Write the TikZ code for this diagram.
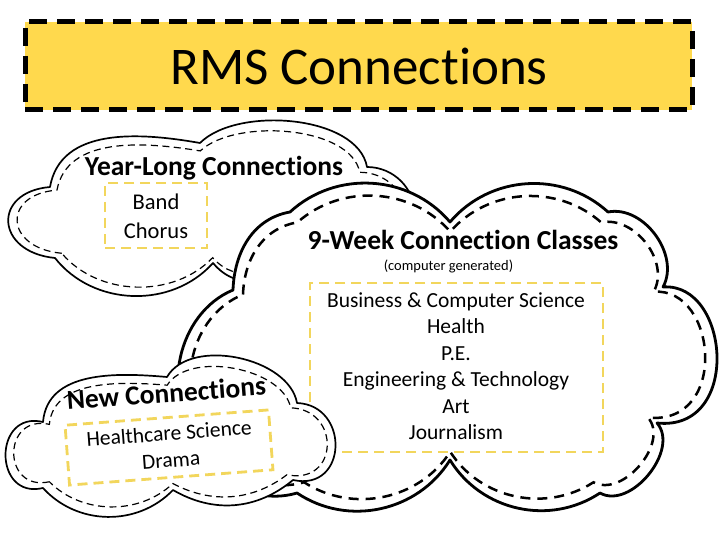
\documentclass[tikz,border=0pt]{standalone}
\usepackage{fontspec}
\setmainfont{Carlito}[Ligatures={NoCommon}]
\definecolor{titleyellow}{RGB}{255,217,77}
\definecolor{boxyellow}{RGB}{242,214,92}
\begin{document}
\begin{tikzpicture}[x=1pt,y=-1pt,
  smallouter/.style={draw=black, fill=white, line width=1.7pt, line join=round},
  smallinner/.style={draw=black, line width=1.2pt, dash pattern=on 7pt off 4.5pt},
  bigouter/.style={draw=black, fill=white, line width=2.8pt, line join=round},
  biginner/.style={draw=black, line width=2.5pt, dash pattern=on 10pt off 7pt},
  titlebox/.style={draw=black, fill=titleyellow, line width=5pt, dash pattern=on 18pt off 10pt, inner sep=0pt},
  ybox/.style={draw=boxyellow, line width=2.8pt, dash pattern=on 10pt off 6pt, inner sep=0pt},
  titletext/.style={font=\fontsize{53}{60}\selectfont, inner sep=0pt},
  head/.style={font=\bfseries\fontsize{27.5}{32}\selectfont, inner sep=0pt},
  body/.style={font=\fontsize{21.5}{25}\selectfont, inner sep=0pt},
  bodyb/.style={font=\fontsize{22.5}{26}\selectfont, inner sep=0pt},
  bodylist/.style={font=\fontsize{21.5}{27}\selectfont, inner sep=0pt, align=center},
  tiny/.style={font=\fontsize{14.5}{17}\selectfont, inner sep=0pt}
]
\useasboundingbox (0,0) rectangle (720,540);
\fill[white] (0,0) rectangle (720,540);

% title
\node[titlebox, minimum width=667pt, minimum height=88pt] (title) at (358.5,66) {};
\node[titletext, anchor=base] (titletxt) at (359,85) {RMS Connections};

% cloud paths
\def\yearpath{(55,258) .. controls (-5,252) and (-8,192) .. (50,187)
  to[out=80,in=170] (200,143)
  to[out=45,in=100,looseness=0.8] (367,167)
  to[bend left=45] (415,215) -- (260,280)
  to[bend left=30] (213,263)
  to[bend left=50] (55,258) -- cycle}
\def\bigpath{(233,290) to[out=88,in=190] (290,212)
  to[bend left=46] (450,222)
  to[bend left=46] (608,212)
  to[bend left=65] (663,287)
  .. controls (730,282) and (742,432) .. (657,423)
  to[bend left=80] (600,493)
  to[bend left=46] (450,460)
  to[bend left=46] (297,493)
  to[bend left=45] (200,440)
  to[bend left=55] (233,290) -- cycle}
\def\newpath{(43,488) .. controls (-7,500) and (-7,410) .. (43,422)
  to[out=85,in=175] (167,377)
  to[out=60,in=100,looseness=0.9] (297,403)
  .. controls (350,405) and (348,492) .. (293,480)
  to[bend left=35] (173,490)
  to[bend left=47] (43,488) -- cycle}

% year-long cloud
\path[smallouter] \yearpath;
\begin{scope}[shift={(205,215)}, xscale=0.955, yscale=0.89, shift={(-205,-215)}]
  \path[smallinner] \yearpath;
\end{scope}
\node[head, anchor=base] (yeartitle) at (214,176) {Year-Long Connections};
\node[ybox, minimum width=102pt, minimum height=65pt] (yearbox) at (156,215.5) {};
\node[bodyb, anchor=base] (band) at (156,210) {Band};
\node[bodyb, anchor=base] (chorus) at (156,238) {Chorus};

% 9-week cloud
\path[bigouter] \bigpath;
\begin{scope}[shift={(455,350)}, xscale=0.955, yscale=0.925, shift={(-455,-350)}]
  \path[biginner] \bigpath;
\end{scope}
\node[head, anchor=base] (weektitle) at (463,249) {9-Week Connection Classes};
\node[tiny, anchor=base] (computer) at (448.5,270.5) {(computer generated)};
\node[ybox, minimum width=293pt, minimum height=169pt] (weekbox) at (456.5,367.5) {};
\node[body, anchor=base] (c1) at (456,307.3) {Business \& Computer Science};
\node[body, anchor=base] (c2) at (456,333.5) {Health};
\node[body, anchor=base] (c3) at (456,360) {P.E.};
\node[body, anchor=base] (c4) at (456,386.5) {Engineering \& Technology};
\node[body, anchor=base] (c5) at (456,413) {Art};
\node[body, anchor=base] (c6) at (456,439.3) {Journalism};

% new cloud
\path[smallouter] \newpath;
\begin{scope}[shift={(170,440)}, xscale=0.95, yscale=0.87, shift={(-170,-440)}]
  \path[smallinner] \newpath;
\end{scope}
\node[head, anchor=base, rotate=4.3] (newtitle) at (167,402.5) {New Connections};
\node[ybox, minimum width=204pt, minimum height=60pt, rotate=4.3] (newbox) at (169,447.5) {};
\node[bodylist, rotate=4.3] (newlist) at (170,446.5) {Healthcare Science\\Drama};
\end{tikzpicture}
\end{document}
